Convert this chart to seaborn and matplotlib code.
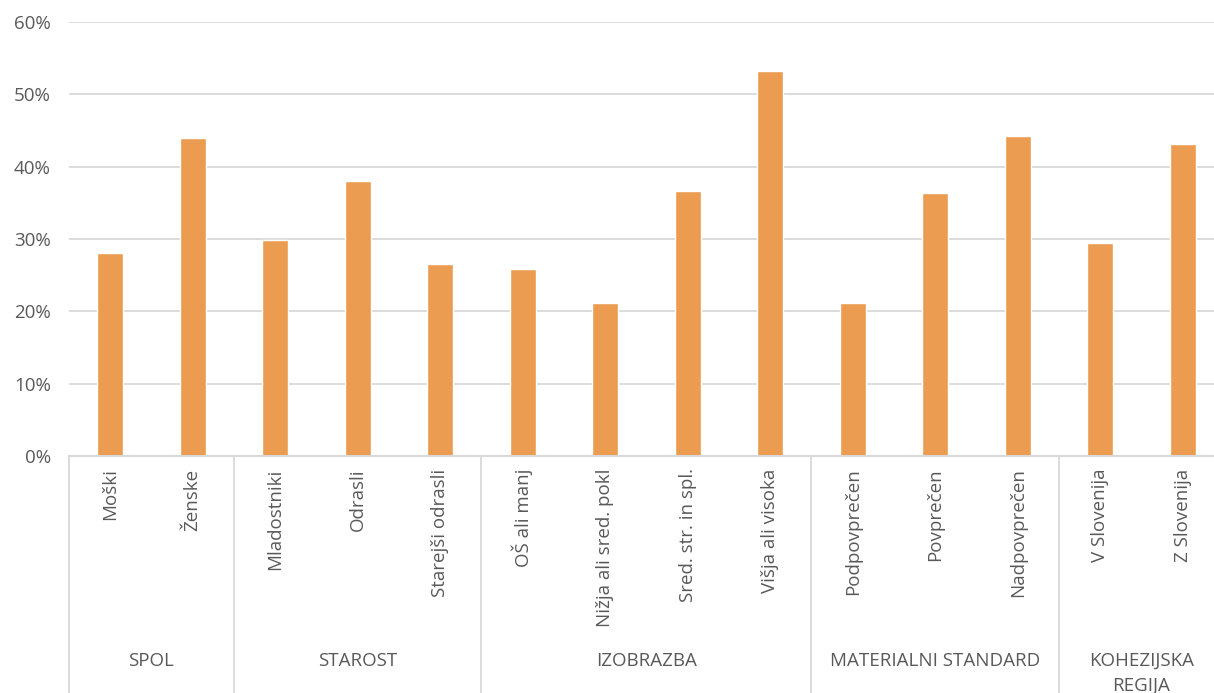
import matplotlib
matplotlib.use("Agg")
import matplotlib.pyplot as plt
import matplotlib.transforms as mtransforms
from matplotlib.ticker import PercentFormatter
import seaborn as sns
import pandas as pd

# data
groups = ["SPOL", "STAROST", "IZOBRAZBA", "MATERIALNI STANDARD", "KOHEZIJSKA\nREGIJA"]
group_sizes = [2, 3, 4, 3, 2]
categories = ["Moški", "Ženske",
              "Mladostniki", "Odrasli", "Starejši odrasli",
              "OŠ ali manj", "Nižja ali sred. pokl", "Sred. str. in spl.", "Višja ali visoka",
              "Podpovprečen", "Povprečen", "Nadpovprečen",
              "V Slovenija", "Z Slovenija"]
values = [0.280, 0.440,
          0.298, 0.380, 0.265,
          0.259, 0.212, 0.366, 0.532,
          0.211, 0.364, 0.443,
          0.294, 0.431]

bar_color = "#EB9C50"
grid_color = "#D9D9D9"
text_color = "#595959"
fsize = 13.5

sns.set_style("white")
plt.rcParams["font.family"] = ["Open Sans", "DejaVu Sans"]

df = pd.DataFrame({"cat": categories, "val": values})

fig = plt.figure(figsize=(12.14, 6.93), dpi=100)
ax = fig.add_axes([0.0568, 0.342, 0.9514, 0.6263])

sns.barplot(data=df, x="cat", y="val", order=categories, color=bar_color,
            width=0.315, saturation=1, ax=ax)

ax.set_xlim(-0.5, len(categories) - 0.5)
ax.set_ylim(0, 0.6)
ax.set_yticks([0, 0.1, 0.2, 0.3, 0.4, 0.5, 0.6])
ax.yaxis.set_major_formatter(PercentFormatter(1.0, decimals=0))
ax.yaxis.grid(True, color=grid_color, linewidth=1.3)
ax.set_axisbelow(True)
ax.set_xlabel("")
ax.set_ylabel("")

for side in ["top", "right", "left"]:
    ax.spines[side].set_visible(False)
ax.spines["bottom"].set_color(grid_color)
ax.spines["bottom"].set_linewidth(1.5)

ax.tick_params(axis="y", length=0, pad=13, labelsize=fsize, labelcolor=text_color)
ax.tick_params(axis="x", length=0, pad=9, labelsize=fsize, labelcolor=text_color)
ax.set_xticks(range(len(categories)))
ax.set_xticklabels(categories, rotation=90, ha="center", va="top")

# group separators and group labels below the axis
trans = mtransforms.blended_transform_factory(ax.transData, ax.transAxes)
start = 0
edges = [-0.5]
for name, size in zip(groups, group_sizes):
    center = start + (size - 1) / 2
    ax.annotate(name, xy=(center, 0), xycoords=trans, xytext=(0, -196),
                textcoords="offset pixels", ha="center", va="top",
                fontsize=fsize, color=text_color, linespacing=1.5)
    start += size
    edges.append(start - 0.5)

for e in edges:
    ax.plot([e, e], [0, -0.7], transform=trans, color=grid_color,
            linewidth=1.3, clip_on=False)

fig.savefig("out.png", dpi=100)
